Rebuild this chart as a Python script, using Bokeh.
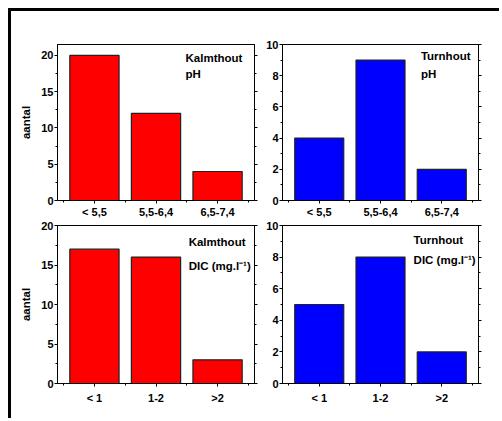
from bokeh.plotting import figure
from bokeh.models import (Range1d, FixedTicker, SingleIntervalTicker, LinearAxis, Label,
                          Div, Spacer, CustomJSTickFormatter)
from bokeh.layouts import row, column
from bokeh.embed import file_html
from bokeh.resources import INLINE

# ---- data ----
ph_classes = ["< 5,5", "5,5-6,4", "6,5-7,4"]
dic_classes = ["< 1", "1-2", ">2"]
kalmthout_ph = [20, 12, 4]
turnhout_ph = [4, 9, 2]
kalmthout_dic = [17, 16, 3]
turnhout_dic = [5, 8, 2]
sites = ["Kalmthout", "Turnhout"]
variables = ["pH", "DIC (mg.l\u207b\u00b9)"]
y_label = "aantal"

FONT = "Liberation Sans"
RED = "#FF0000"
BLUE = "#0000FF"


def panel(cats, vals, color, y_end, y_step, site, var, site_xy, var_xy,
          width, height, mbl, mbr, mbt, mbb, ylabel=None, x_standoff=2):
    n = len(cats)
    xs = [i + 1 for i in range(n)]
    p = figure(width=width, height=height,
               x_range=Range1d(0.4, n + 0.6), y_range=Range1d(0, y_end),
               output_backend="svg", toolbar_location=None,
               min_border_left=mbl, min_border_right=mbr,
               min_border_top=mbt, min_border_bottom=mbb)
    p.xgrid.visible = False
    p.ygrid.visible = False
    p.outline_line_color = "black"
    p.outline_line_width = 1
    p.background_fill_color = "white"
    p.border_fill_color = "white"

    p.vbar(x=xs, top=vals, width=0.8, fill_color=color,
           line_color="#222222", line_width=1.2)

    # x axis
    xa = p.xaxis[0]
    xa.ticker = FixedTicker(ticks=xs, minor_ticks=[x - 0.5 for x in xs] + [xs[-1] + 0.5])
    xa.major_label_overrides = {x: c for x, c in zip(xs, cats)}
    xa.major_label_text_font = FONT
    xa.major_label_text_font_style = "bold"
    xa.major_label_text_font_size = "11px"
    xa.major_label_text_color = "black"
    xa.major_label_standoff = x_standoff
    xa.major_tick_out = 3
    xa.major_tick_in = 0
    xa.minor_tick_out = 2
    xa.minor_tick_in = 0
    xa.axis_line_color = "black"

    # y axis
    ya = p.yaxis[0]
    ya.ticker = SingleIntervalTicker(interval=y_step, num_minor_ticks=2)
    ya.major_label_text_font = FONT
    ya.major_label_text_font_style = "bold"
    ya.major_label_text_font_size = "11px"
    ya.major_label_text_color = "black"
    ya.major_label_standoff = 1
    ya.major_tick_out = 3
    ya.major_tick_in = 0
    ya.minor_tick_out = 2
    ya.minor_tick_in = 0
    ya.axis_line_color = "black"
    if ylabel:
        ya.axis_label = ylabel
        ya.axis_label_text_font = FONT
        ya.axis_label_text_font_style = "bold"
        ya.axis_label_text_font_size = "11.5px"
        ya.axis_label_text_color = "black"
        ya.axis_label_standoff = 6

    ra = LinearAxis(ticker=SingleIntervalTicker(interval=y_step, num_minor_ticks=2),
                    formatter=CustomJSTickFormatter(code="return ''"),
                    major_label_standoff=0,
                    major_tick_out=3, major_tick_in=0, minor_tick_out=2, minor_tick_in=0,
                    axis_line_color="black")
    p.add_layout(ra, "right")

    for txt, (lx, ly) in ((site, site_xy), (var, var_xy)):
        p.add_layout(Label(x=lx, y=ly, text=txt, text_baseline="middle",
                           text_font=FONT, text_font_style="bold",
                           text_font_size="11.5px", text_color="black"))
    return p


p1 = panel(ph_classes, kalmthout_ph, RED, 21.5, 5, sites[0], variables[0],
           (2.48, 19.7), (2.48, 17.5), 252, 209, 46, 9, 33, 19, ylabel=y_label, x_standoff=2)
p2 = panel(ph_classes, turnhout_ph, BLUE, 10, 2, sites[1], variables[0],
           (2.66, 9.25), (2.66, 8.1), 231, 209, 18, 16, 33, 19, x_standoff=2)
p3 = panel(dic_classes, kalmthout_dic, RED, 20, 5, sites[0], variables[1],
           (2.53, 17.9), (2.53, 14.9), 252, 193, 46, 9, 5, 30, ylabel=y_label, x_standoff=5)
p4 = panel(dic_classes, turnhout_dic, BLUE, 10, 2, sites[1], variables[1],
           (2.54, 9.1), (2.54, 7.8), 231, 193, 18, 16, 5, 30, x_standoff=5)

left_bar = Div(text="", width=3, height=410, margin=0,
               styles={"background-color": "black"})
top_bar = Div(text="", width=488, height=3, margin=0,
              styles={"background-color": "black"})

inner = row(left_bar, column(top_bar, row(p1, p2), row(p3, p4)))
layout = column(Spacer(width=494, height=8), row(Spacer(width=8, height=410), inner))

open("out.html", "w").write(file_html(layout, INLINE))
